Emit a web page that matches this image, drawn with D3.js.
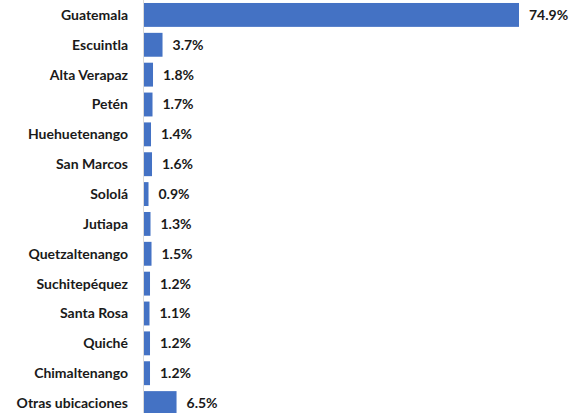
<!DOCTYPE html>
<html><head><meta charset="utf-8">
<script src="https://cdn.jsdelivr.net/npm/d3@7"></script>
<style>body{margin:0;background:#fff}svg{display:block}</style>
</head><body>
<script>
const categories = ["Guatemala","Escuintla","Alta Verapaz","Petén","Huehuetenango","San Marcos","Sololá","Jutiapa","Quetzaltenango","Suchitepéquez","Santa Rosa","Quiché","Chimaltenango","Otras ubicaciones"];
const values = [74.9,3.7,1.8,1.7,1.4,1.6,0.9,1.3,1.5,1.2,1.1,1.2,1.2,6.5];
const data = categories.map((c,i)=>({c, v: values[i]}));

const W=580,H=413;
const svg=d3.select("body").append("svg").attr("width",W).attr("height",H);
const x0=144;
const x=d3.scaleLinear().domain([0,74.9]).range([x0,519]);
const y=d3.scaleBand().domain(categories).range([0,418]).paddingInner(0.2).paddingOuter(0.1);

svg.append("g").selectAll("rect").data(data).join("rect")
  .attr("x",x(0)).attr("y",d=>y(d.c)).attr("width",d=>x(d.v)-x(0)).attr("height",y.bandwidth())
  .attr("fill","#4472C4");

svg.append("line").attr("x1",143.5).attr("x2",143.5).attr("y1",0).attr("y2",H)
  .attr("stroke","#d9d9d9").attr("stroke-width",1);

const font="Lato, 'Open Sans', sans-serif";
const fs=14;
svg.append("g").selectAll("text").data(data).join("text")
  .attr("x",128).attr("y",d=>y(d.c)+y.bandwidth()/2).attr("dy","0.35em")
  .attr("text-anchor","end").attr("font-family",font).attr("font-weight","bold")
  .attr("font-size",fs).attr("fill","#1a1a1a").text(d=>d.c);

svg.append("g").selectAll("text").data(data).join("text")
  .attr("x",d=>x(d.v)+10).attr("y",d=>y(d.c)+y.bandwidth()/2).attr("dy","0.35em")
  .attr("font-family",font).attr("font-weight","bold")
  .attr("font-size",fs).attr("fill","#1a1a1a").text(d=>d.v.toFixed(1)+"%");
</script>
</body></html>
